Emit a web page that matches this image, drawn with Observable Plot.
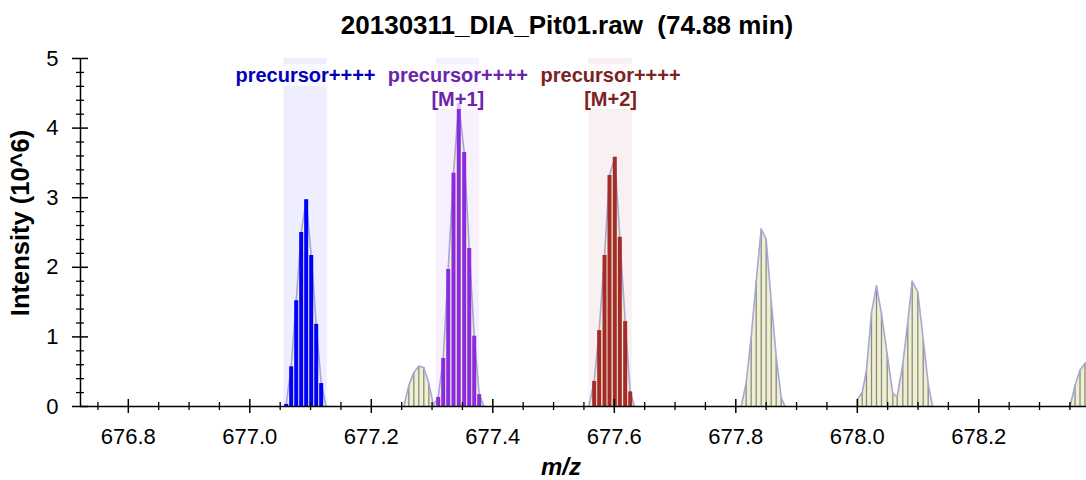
<!DOCTYPE html>
<html><head><meta charset="utf-8">
<script src="https://cdn.jsdelivr.net/npm/d3@7"></script>
<script src="https://cdn.jsdelivr.net/npm/@observablehq/plot@0.6"></script>
<style>
body{margin:0;background:#fff;font-family:"Liberation Sans",Arial,Helvetica,sans-serif;}
#wrap{position:relative;width:1086px;height:480px;overflow:hidden;background:#fff;}
#title{position:absolute;left:0;top:0;width:1134px;text-align:center;font-weight:bold;font-size:26px;line-height:50px;white-space:pre;color:#000;}
#chart{position:absolute;left:0;top:46px;}
#xlabel{position:absolute;left:0;top:450px;width:1122px;text-align:center;font-weight:bold;font-style:italic;font-size:24px;line-height:34px;}
#ylabel{position:absolute;left:-130px;top:208px;width:300px;height:30px;line-height:30px;text-align:center;font-weight:bold;font-size:25.5px;transform:rotate(-90deg);}
</style>
</head><body>
<div id="wrap">
  <div id="title"></div>
  <div id="chart"></div>
  <div id="xlabel"></div>
  <div id="ylabel"></div>
</div>
<script>
// ---- texts ----
const titleText = "20130311_DIA_Pit01.raw  (74.88 min)";
const xLabel = "m/z";
const yLabel = "Intensity (10^6)";

// ---- profile spectrum segments (m/z, intensity in 10^6) ----
const seg1Mz  = [677.0599, 677.0681, 677.0764, 677.0846, 677.0928, 677.1011, 677.1093, 677.1175, 677.1258];
const seg1Int = [0.03, 0.57, 1.52, 2.50, 2.97, 2.17, 1.18, 0.33, 0];

const seg2Mz  = [677.2535, 677.2617, 677.2700, 677.2782, 677.2864, 677.2947, 677.3024, 677.3101, 677.3184, 677.3266, 677.3353, 677.3440, 677.3529, 677.3612, 677.3694, 677.3776, 677.3855];
const seg2Int = [0, 0.30, 0.49, 0.58, 0.56, 0.33, 0.02, 0.13, 0.69, 1.97, 3.35, 4.35, 3.65, 2.27, 1.01, 0.17, 0];

const seg3Mz  = [677.5580, 677.5669, 677.5751, 677.5839, 677.5921, 677.6008, 677.6091, 677.6179, 677.6262, 677.6333];
const seg3Int = [0, 0.36, 1.09, 2.17, 3.32, 3.58, 2.43, 1.22, 0.21, 0];

const seg4Mz  = [677.8089, 677.8171, 677.8253, 677.8336, 677.8418, 677.8500, 677.8583, 677.8665, 677.8747, 677.8810];
const seg4Int = [0, 0.34, 0.99, 1.80, 2.55, 2.40, 1.52, 0.72, 0.13, 0];

const seg5Mz  = [678.0008, 678.0081, 678.0151, 678.0234, 678.0316, 678.0398, 678.0492, 678.0584, 678.0657, 678.0749, 678.0831, 678.0904, 678.0996, 678.1085, 678.1167, 678.1238];
const seg5Int = [0.11, 0.20, 0.52, 1.35, 1.73, 1.33, 0.75, 0.19, 0.14, 0.61, 1.21, 1.80, 1.64, 0.97, 0.33, 0];

const seg6Mz  = [678.3501, 678.3584, 678.3666, 678.3748, 678.3830];
const seg6Int = [0, 0.30, 0.52, 0.62, 0.64];

// ---- matched precursor isotope windows ----
const bandLabels = ["precursor++++", "precursor++++\n[M+1]", "precursor++++\n[M+2]"];
const bandLo     = [677.0560, 677.3067, 677.5582];
const bandHi     = [677.1274, 677.3780, 677.6296];
const bandColors = ["#0000ff", "#8a2be2", "#a52a2a"];
const labelColors = ["#0000b8", "#6a26aa", "#7c2222"];

// ---- axes ----
const xDomain = [676.7213, 678.3773];
const yDomain = [0, 5];
const xMajor = [676.8, 677.0, 677.2, 677.4, 677.6, 677.8, 678.0, 678.2];
const xMinor = [676.75, 676.85, 676.9, 676.95, 677.05, 677.1, 677.15, 677.25, 677.3, 677.35, 677.45, 677.5, 677.55, 677.65, 677.7, 677.75, 677.85, 677.9, 677.95, 678.05, 678.1, 678.15, 678.25, 678.3, 678.35];
const yMajor = [0, 1, 2, 3, 4, 5];
const yMinor = [0.2, 0.4, 0.6, 0.8, 1.2, 1.4, 1.6, 1.8, 2.2, 2.4, 2.6, 2.8, 3.2, 3.4, 3.6, 3.8, 4.2, 4.4, 4.6, 4.8];

// ---- build tables ----
const segs = [[seg1Mz, seg1Int], [seg2Mz, seg2Int], [seg3Mz, seg3Int], [seg4Mz, seg4Int], [seg5Mz, seg5Int], [seg6Mz, seg6Int]];
const profile = [];
segs.forEach(([mz, it], s) => mz.forEach((m, i) => profile.push({seg: s, mz: m, intensity: it[i]})));
const bands = bandLabels.map((label, i) => ({label, lo: bandLo[i], hi: bandHi[i], center: (bandLo[i] + bandHi[i]) / 2, color: bandColors[i], textColor: labelColors[i], lines: label.split("\n").length}));
const bandOf = (m) => bands.find(b => m >= b.lo && m <= b.hi);
const matched = [], unmatched = [];
profile.forEach(p => {
  const b = bandOf(p.mz);
  if (b && p.intensity > 0) matched.push({...p, color: b.color});
  else if (p.intensity > 0) unmatched.push(p);
});

document.getElementById("title").textContent = titleText;
document.getElementById("xlabel").textContent = xLabel;
document.getElementById("ylabel").textContent = yLabel;

const blank = () => "";
const chart = Plot.plot({
  width: 1086, height: 434,
  marginLeft: 80, marginRight: 0, marginTop: 12, marginBottom: 74,
  style: {fontFamily: '"Liberation Sans", Arial, sans-serif', fontSize: "22px", color: "#000", background: "#fff", overflow: "visible"},
  x: {domain: xDomain},
  y: {domain: yDomain},
  color: {type: "identity"},
  marks: [
    Plot.rect(bands, {x1: "lo", x2: "hi", fill: "color", fillOpacity: 0.065}),
    Plot.areaY(profile, {x: "mz", y: "intensity", z: "seg", fill: "#f0f0cf", clip: true}),
    Plot.ruleX(unmatched, {x: "mz", y1: 0, y2: "intensity", stroke: "#8a8a8a", strokeWidth: 1.3, clip: true}),
    Plot.lineY(profile, {x: "mz", y: "intensity", z: "seg", stroke: "#a6a6d8", strokeWidth: 1.6, clip: true}),
    Plot.ruleX(matched, {x: "mz", y1: 0, y2: "intensity", stroke: "color", strokeWidth: 4}),
    Plot.rect(bands.filter(b => b.lines === 1), {x1: "lo", x2: "hi", fill: "#fff", fillOpacity: 0.7, insetTop: 6, insetBottom: 320}),
    Plot.rect(bands.filter(b => b.lines === 2), {x1: "lo", x2: "hi", fill: "#fff", fillOpacity: 0.7, insetTop: 6, insetBottom: 297}),
    Plot.text(bands, {x: "center", text: "label", fill: "textColor", frameAnchor: "top", dy: 6, lineAnchor: "top", lineHeight: 1.2, fontWeight: "bold", fontSize: 20}),
    // axis lines
    Plot.ruleY([0], {stroke: "#000", strokeWidth: 1.5}),
    Plot.ruleX([xDomain[0]], {stroke: "#000", strokeWidth: 1.5}),
    // x axis ticks (crossing the axis line)
    Plot.axisX(xMajor, {anchor: "bottom", tickSize: 7, tickPadding: 15, tickFormat: d => d.toFixed(1), fontSize: 22, strokeWidth: 1.5, label: null}),
    Plot.axisX(xMajor, {anchor: "bottom", tickSize: 7, dy: -7, tickFormat: blank, strokeWidth: 1.5, label: null}),
    Plot.axisX(xMinor, {anchor: "bottom", tickSize: 4, tickFormat: blank, strokeWidth: 1.3, label: null}),
    Plot.axisX(xMinor, {anchor: "bottom", tickSize: 4, dy: -4, tickFormat: blank, strokeWidth: 1.3, label: null}),
    // y axis ticks
    Plot.axisY(yMajor, {anchor: "left", tickSize: 8, tickPadding: 14, tickFormat: d => String(d), fontSize: 22, strokeWidth: 1.5, label: null}),
    Plot.axisY(yMajor, {anchor: "left", tickSize: 8, dx: 8, tickFormat: blank, strokeWidth: 1.5, label: null}),
    Plot.axisY(yMinor, {anchor: "left", tickSize: 4, tickFormat: blank, strokeWidth: 1.3, label: null}),
    Plot.axisY(yMinor, {anchor: "left", tickSize: 4, dx: 4, tickFormat: blank, strokeWidth: 1.3, label: null})
  ]
});
document.getElementById("chart").appendChild(chart);
</script>
</body></html>
